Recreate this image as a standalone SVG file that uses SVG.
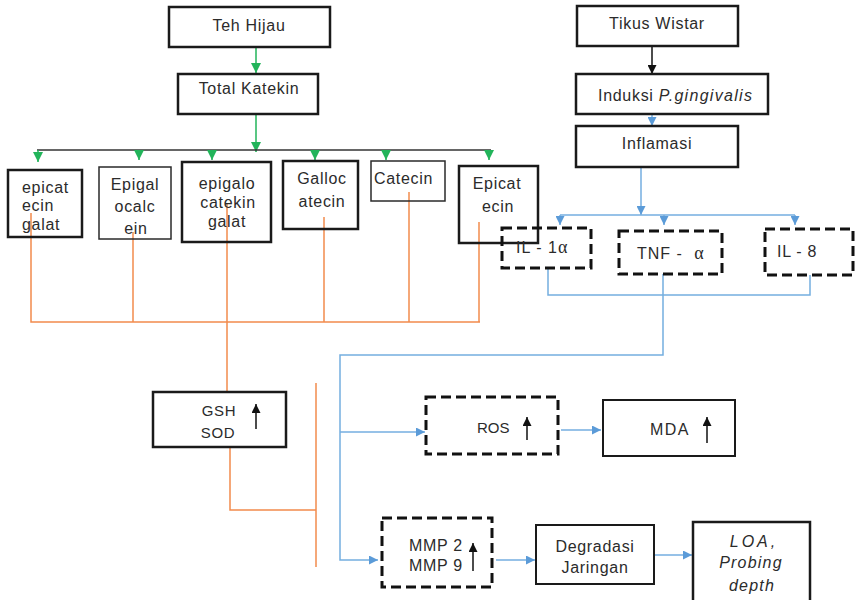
<svg xmlns="http://www.w3.org/2000/svg" width="859" height="600" viewBox="0 0 859 600">
<style>
  text { font-family: "Liberation Sans", Arial, sans-serif; font-size: 16px; fill: #2b2b2b; letter-spacing: 0.7px; }
  .box { fill: none; stroke: #1a1a1a; stroke-width: 2.5; }
  .thin { fill: none; stroke: #2a2a2a; stroke-width: 1.5; }
  .med { fill: none; stroke: #1a1a1a; stroke-width: 2; }
  .dash { fill: none; stroke: #111; stroke-width: 3; stroke-dasharray: 10 5; }
  .green { fill: none; stroke: #22b45a; stroke-width: 1.5; }
  .blue { fill: none; stroke: #74aee0; stroke-width: 1.5; }
  .orange { fill: none; stroke: #f28b4c; stroke-width: 1.5; }
  .dark { fill: none; stroke: #333; stroke-width: 1.5; }
  .up { stroke: #111; stroke-width: 1.5; fill: none; }
  .it { font-style: italic; }
  .c { text-anchor: middle; }
  .greek { font-family: "Liberation Serif", serif; font-size: 18px; }
</style>
<defs>
  <marker id="ag" viewBox="0 0 10 10" refX="10" refY="5" markerWidth="10" markerHeight="11" orient="auto" markerUnits="userSpaceOnUse">
    <path d="M0,0 L10,5 L0,10 z" fill="#22b45a"/>
  </marker>
  <marker id="ab" viewBox="0 0 10 10" refX="10" refY="5" markerWidth="9" markerHeight="9" orient="auto" markerUnits="userSpaceOnUse">
    <path d="M0,0 L10,5 L0,10 z" fill="#5b9bd8"/>
  </marker>
  <marker id="ak" viewBox="0 0 10 10" refX="10" refY="5" markerWidth="9" markerHeight="9" orient="auto" markerUnits="userSpaceOnUse">
    <path d="M0,0 L10,5 L0,10 z" fill="#111"/>
  </marker>
</defs>

<g id="connectors">
  <line class="green" x1="256" y1="48" x2="256" y2="73" marker-end="url(#ag)"/>
  <line class="green" x1="256" y1="114" x2="256" y2="152" marker-end="url(#ag)"/>
  <line class="dark" x1="37" y1="150" x2="491" y2="150"/>
  <line class="green" x1="38" y1="150" x2="38" y2="162" marker-end="url(#ag)"/>
  <line class="green" x1="139" y1="150" x2="139" y2="160" marker-end="url(#ag)"/>
  <line class="green" x1="212" y1="150" x2="212" y2="160" marker-end="url(#ag)"/>
  <line class="green" x1="315" y1="150" x2="315" y2="160" marker-end="url(#ag)"/>
  <line class="green" x1="386" y1="150" x2="386" y2="160" marker-end="url(#ag)"/>
  <line class="green" x1="489" y1="150" x2="489" y2="160" marker-end="url(#ag)"/>
  <path class="orange" d="M31,213 V322 H480"/>
  <line class="orange" x1="133" y1="232" x2="133" y2="322"/>
  <line class="orange" x1="324" y1="217" x2="324" y2="322"/>
  <line class="orange" x1="409" y1="192" x2="409" y2="322"/>
  <line class="orange" x1="479" y1="222" x2="479" y2="322"/>
  <line class="orange" x1="227" y1="203" x2="227" y2="392"/>
  <path class="orange" d="M230,447 V510 H316"/>
  <line class="orange" x1="316" y1="383" x2="316" y2="567"/>
  <line stroke="#111" stroke-width="1.5" x1="652" y1="46" x2="652" y2="74" marker-end="url(#ak)"/>
  <line class="blue" x1="652" y1="114" x2="652" y2="126" marker-end="url(#ab)"/>
  <line class="blue" x1="641" y1="167" x2="641" y2="215" marker-end="url(#ab)"/>
  <line class="blue" x1="560" y1="215" x2="795" y2="215"/>
  <line class="blue" x1="560" y1="215" x2="560" y2="225" marker-end="url(#ab)"/>
  <line class="blue" x1="664" y1="215" x2="664" y2="225" marker-end="url(#ab)"/>
  <line class="blue" x1="795" y1="215" x2="795" y2="225" marker-end="url(#ab)"/>
  <path class="blue" d="M548,268 V295 H810 V275"/>
  <path class="blue" d="M663,274 V355 H340 V560 H378" marker-end="url(#ab)"/>
  <line class="blue" x1="340" y1="432" x2="425" y2="432" marker-end="url(#ab)"/>
  <line class="blue" x1="561" y1="430" x2="601" y2="430" marker-end="url(#ab)"/>
  <line class="blue" x1="496" y1="560" x2="535" y2="560" marker-end="url(#ab)"/>
  <line class="blue" x1="655" y1="555" x2="692" y2="555" marker-end="url(#ab)"/>
</g>

<g id="teh-hijau">
  <rect class="box" x="169" y="7" width="161" height="40"/>
  <text class="c" x="249" y="31">Teh Hijau</text>
</g>
<g id="total-katekin">
  <rect class="box" x="178" y="74" width="140" height="40"/>
  <text class="c" x="249" y="94">Total Katekin</text>
</g>

<g id="epicatecin-galat">
  <rect class="box" x="8" y="170" width="74" height="67"/>
  <text x="22" y="193">epicat</text>
  <text x="22" y="211">ecin</text>
  <text x="22" y="230">galat</text>
</g>
<g id="epigalocatein">
  <rect class="thin" x="99" y="167" width="72" height="72"/>
  <text class="c" x="135" y="190">Epigal</text>
  <text class="c" x="135" y="212">ocalc</text>
  <text class="c" x="136" y="234">ein</text>
</g>
<g id="epigalocatekin-galat">
  <rect class="box" x="182" y="162" width="89" height="80"/>
  <text class="c" x="227" y="189">epigalo</text>
  <text class="c" x="228" y="208">catekin</text>
  <text class="c" x="227" y="227">galat</text>
</g>
<g id="gallocatecin">
  <rect class="box" x="283" y="161" width="75" height="68"/>
  <text class="c" x="322" y="184">Galloc</text>
  <text class="c" x="322" y="207">atecin</text>
</g>
<g id="catecin">
  <rect class="thin" x="371" y="161" width="74" height="40"/>
  <text x="374" y="184">Catecin</text>
</g>
<g id="epicatecin">
  <rect class="box" x="459" y="166" width="79" height="77"/>
  <text class="c" x="497" y="189">Epicat</text>
  <text class="c" x="498" y="212">ecin</text>
</g>

<g id="tikus-wistar">
  <rect class="box" x="577" y="6" width="161" height="40"/>
  <text class="c" x="657" y="29">Tikus Wistar</text>
</g>
<g id="induksi">
  <rect class="box" x="576" y="74" width="192" height="40"/>
  <text x="598" y="101">Induksi <tspan class="it" style="letter-spacing:1.3px">P.gingivalis</tspan></text>
</g>
<g id="inflamasi">
  <rect class="box" x="576" y="126" width="162" height="41"/>
  <text class="c" x="657" y="149">Inflamasi</text>
</g>

<g id="il-1a">
  <rect class="dash" x="502" y="228" width="89" height="40"/>
  <text x="516" y="253" style="letter-spacing:1px">IL - 1<tspan class="greek">α</tspan></text>
</g>
<g id="tnf-a">
  <rect class="dash" x="619" y="231" width="103" height="43"/>
  <text x="637" y="259" style="letter-spacing:1px">TNF - <tspan dx="6" class="greek">α</tspan></text>
</g>
<g id="il-8">
  <rect class="dash" x="765" y="229" width="88" height="46"/>
  <text x="777" y="257">IL - 8</text>
</g>

<g id="gsh-sod">
  <rect class="box" x="153" y="392" width="133" height="55"/>
  <text class="c" x="219" y="416" style="font-size:15px">GSH</text>
  <text class="c" x="218" y="438" style="font-size:15px">SOD</text>
  <line class="up" x1="256" y1="429" x2="256" y2="404" marker-end="url(#ak)"/>
</g>

<g id="ros">
  <rect class="dash" x="426" y="397" width="132" height="57"/>
  <text x="477" y="433" style="font-size:15px;letter-spacing:0">ROS</text>
  <line class="up" x1="527" y1="440" x2="527" y2="417" marker-end="url(#ak)"/>
</g>
<g id="mda">
  <rect class="med" x="603" y="400" width="132" height="56"/>
  <text x="650" y="435" style="letter-spacing:1.4px">MDA</text>
  <line class="up" x1="707" y1="443" x2="707" y2="417" marker-end="url(#ak)"/>
</g>

<g id="mmp">
  <rect class="dash" x="382" y="518" width="110" height="69"/>
  <text x="409" y="551">MMP 2</text>
  <text x="409" y="571">MMP 9</text>
  <line class="up" x1="473" y1="571" x2="473" y2="543" marker-end="url(#ak)"/>
</g>
<g id="degradasi">
  <rect class="med" x="536" y="525" width="118" height="59"/>
  <text class="c" x="595" y="552">Degradasi</text>
  <text class="c" x="595" y="573">Jaringan</text>
</g>
<g id="loa">
  <rect class="box" x="693" y="522" width="117" height="90"/>
  <text class="c it" x="754" y="547" style="letter-spacing:3px">LOA,</text>
  <text class="c it" x="751" y="568" style="letter-spacing:1.2px">Probing</text>
  <text class="c it" x="752" y="591" style="letter-spacing:1.2px">depth</text>
</g>
</svg>
